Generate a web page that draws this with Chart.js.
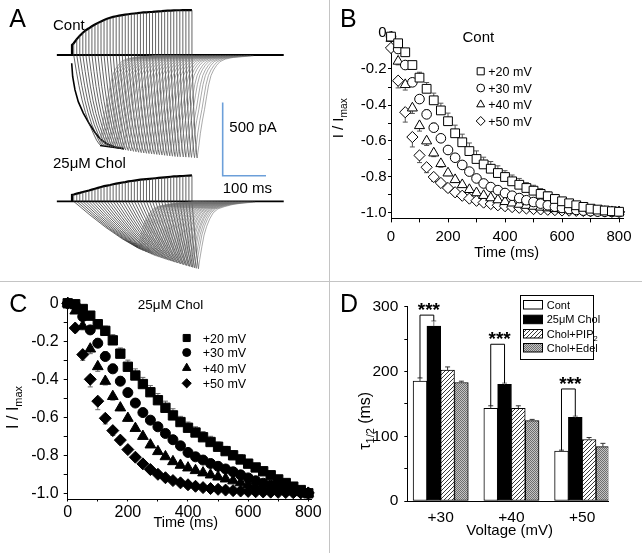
<!DOCTYPE html>
<html>
<head>
<meta charset="utf-8">
<script src="https://cdn.jsdelivr.net/npm/chart.js@4.4.1/dist/chart.umd.min.js"></script>
<style>
  html, body { margin: 0; padding: 0; background: #fff; }
  #fig { position: relative; width: 642px; height: 553px; overflow: hidden; background: #fff; }
  #fig canvas { position: absolute; }
  .div-v { position: absolute; left: 329px; top: 0; width: 1px; height: 553px; background: #c4c4c4; }
  .div-h { position: absolute; left: 0; top: 281px; width: 642px; height: 1px; background: #c4c4c4; }
</style>
</head>
<body>
<div id="fig">
  <canvas id="cA" width="329" height="281" style="left:0;top:0"></canvas>
  <canvas id="cB" width="312" height="281" style="left:330px;top:0"></canvas>
  <canvas id="cC" width="329" height="271" style="left:0;top:282px"></canvas>
  <canvas id="cD" width="312" height="271" style="left:330px;top:282px"></canvas>
  <div class="div-v"></div>
  <div class="div-h"></div>
</div>
<script>
const FONT = "'Liberation Sans', Arial, Helvetica, sans-serif";

// ---------- A: current traces (time in ms, current in pA) ----------
const sweepStart = [4,11,18,25,32,39,46,53,60,67,74,81,88,95,102,109,116,123,130,137,
                    144,151,158,165,172,179,186,193,200,207,214,221,228,235,242,249,256,263,270,277];
const contJump = 68;
const contTop = [80,108,132,152,169,182,196,208,219,229,239,247,254,260,264,268,272,275,278,281,
                 283,285,288,290,291,293,294,296,298,299,301,302,303,304,305,305,306,306,306,306];
const contTip = [64,69,74,79,84,89,94,99,104,109,114,119,124,130,136,142,148,154,160,166,
                 172,178,184,190,196,202,208,214,220,226,232,238,244,250,257,263,270,276,283,289];
const contDepth = [612,615,618,621,624,627,630,633,636,639,642,645,648,651,654,657,660,663,666,668,
                   670,672,674,676,678,680,682,684,686,688,690,692,693,694,695,696,697,698,700,702];
const cholJump = 44;
const cholTop = [47,53,58,64,69,74,80,86,92,98,104,108,112,117,121,125,129,132,136,139,
                 142,145,148,150,152,154,156,158,160,162,164,166,168,170,171,172,173,175,176,177];
const cholTip = [153,157,160,164,167,171,174,178,181,185,188,192,195,199,202,206,209,213,216,220,
                 223,227,230,234,237,241,244,248,251,255,258,262,265,269,272,276,279,283,287,292];
const cholDepth = [318,324,328,333,337,342,346,351,355,360,364,369,372,376,380,384,387,391,394,398,
                   401,404,407,411,414,417,420,423,426,429,432,435,438,441,444,447,450,453,456,459];
// shape of the inward part: [fraction of time to peak, fraction of peak]
const contFall = [[0,0],[0.1,0.18],[0.2,0.34],[0.32,0.5],[0.45,0.64],[0.6,0.77],[0.75,0.87],[0.88,0.95],[1,1]];
const cholFall = [[0,0],[0.25,0.29],[0.5,0.56],[0.75,0.8],[1,1]];
// recovery after peak: [ms after peak, fraction of peak left]
const contRise = [[0,1],[4,0.88],[7.5,0.76],[12,0.64],[17,0.53],[22,0.4],[26.5,0.29],[32,0.2],[38,0.145],[45,0.1],[53,0.064],[65,0.04],[84,0.023],[130,0.008]];
const cholRise = [[0,1],[3,0.86],[8,0.67],[13,0.5],[19,0.37],[26,0.26],[34,0.17],[45,0.11],[61,0.076],[80,0.045],[100,0.026],[131,0.01]];
const traceSpan = [-35, 489];
const arrowCurve = [[-0.7,-56],[1.6,-148],[6.9,-238],[14.5,-318],[26.1,-396],[40,-469],[53.1,-528],[64.7,-571],[80.1,-605],[99.3,-627],[120.1,-639]];
const arrowHead = [[64.7,-617],[120.1,-639]];
const scaleBar = { ms: 100, pA: 500 };

// ---------- B / C: normalised tail currents ----------
const timeMs = [0,25,50,75,100,125,150,175,200,225,250,275,300,325,350,375,400,
                425,450,475,500,525,550,575,600,625,650,675,700,725,750,775,800];
const seriesLabels = ['+20 mV', '+30 mV', '+40 mV', '+50 mV'];

const cont20 = [-0.02,-0.057,-0.107,-0.178,-0.248,-0.31,-0.374,-0.43,-0.49,-0.557,-0.607,-0.656,-0.7,-0.73,-0.754,-0.778,-0.8,
                -0.824,-0.843,-0.861,-0.876,-0.894,-0.907,-0.922,-0.935,-0.946,-0.957,-0.966,-0.976,-0.981,-0.986,-0.99,-0.993];
const cont30 = [-0.02,-0.089,-0.178,-0.274,-0.367,-0.452,-0.526,-0.585,-0.65,-0.693,-0.733,-0.77,-0.808,-0.836,-0.856,-0.873,-0.889,
                -0.904,-0.917,-0.929,-0.939,-0.948,-0.957,-0.965,-0.972,-0.978,-0.983,-0.987,-0.99,-0.992,-0.993,-0.994,-0.995];
const cont40 = [-0.03,-0.157,-0.287,-0.417,-0.515,-0.6,-0.667,-0.726,-0.778,-0.815,-0.843,-0.87,-0.888,-0.903,-0.916,-0.927,-0.937,
                -0.945,-0.952,-0.958,-0.963,-0.968,-0.972,-0.976,-0.979,-0.982,-0.985,-0.987,-0.989,-0.991,-0.992,-0.993,-0.994];
const cont50 = [-0.083,-0.265,-0.44,-0.578,-0.68,-0.746,-0.8,-0.833,-0.861,-0.885,-0.904,-0.92,-0.932,-0.942,-0.95,-0.957,-0.962,
                -0.967,-0.971,-0.975,-0.978,-0.98,-0.982,-0.984,-0.986,-0.987,-0.988,-0.989,-0.99,-0.991,-0.992,-0.993,-0.994];
const cont20Err = [0.005,0.01,0.015,0.02,0.03,0.035,0.04,0.04,0.045,0.045,0.045,0.045,0.045,0.04,0.04,0.04,0.035,
                   0.035,0.035,0.03,0.03,0.03,0.025,0.025,0.02,0.02,0.02,0.015,0.015,0.01,0.01,0.01,0.005];
const cont30Err = [0.005,0.01,0.015,0.02,0.02,0.025,0.025,0.02,0.02,0.02,0.02,0.02,0.015,0.015,0.015,0.015,0.015,
                   0.01,0.01,0.01,0.01,0.01,0.01,0.01,0.01,0.01,0.01,0.01,0.01,0.01,0.01,0.01,0.005];
const cont40Err = [0.005,0.02,0.03,0.03,0.03,0.025,0.02,0.02,0.015,0.015,0.015,0.01,0.01,0.01,0.01,0.01,0.01,
                   0.01,0.01,0.01,0.01,0.01,0.01,0.01,0.01,0.01,0.01,0.01,0.01,0.01,0.01,0.01,0.005];
const cont50Err = [0.01,0.04,0.055,0.055,0.04,0.03,0.025,0.02,0.02,0.015,0.015,0.01,0.01,0.01,0.01,0.01,0.01,
                   0.01,0.01,0.01,0.01,0.01,0.01,0.01,0.01,0.01,0.01,0.01,0.01,0.01,0.01,0.01,0.005];

const chol20 = [0,-0.005,-0.03,-0.065,-0.11,-0.145,-0.195,-0.265,-0.334,-0.38,-0.425,-0.468,-0.51,-0.55,-0.59,-0.625,-0.655,
                -0.68,-0.705,-0.73,-0.755,-0.778,-0.8,-0.822,-0.844,-0.864,-0.884,-0.905,-0.927,-0.946,-0.965,-0.983,-1.0];
const chol30 = [0,-0.01,-0.07,-0.14,-0.21,-0.28,-0.345,-0.41,-0.47,-0.525,-0.575,-0.615,-0.65,-0.685,-0.718,-0.75,-0.785,
                -0.808,-0.825,-0.843,-0.858,-0.872,-0.887,-0.903,-0.919,-0.934,-0.947,-0.958,-0.968,-0.978,-0.986,-0.993,-1.0];
const chol40 = [0,-0.04,-0.12,-0.24,-0.333,-0.41,-0.49,-0.55,-0.605,-0.658,-0.7,-0.745,-0.78,-0.807,-0.833,-0.852,-0.866,
                -0.88,-0.892,-0.903,-0.914,-0.924,-0.934,-0.944,-0.953,-0.962,-0.97,-0.977,-0.983,-0.988,-0.992,-0.996,-1.0];
const chol50 = [0,-0.13,-0.27,-0.4,-0.515,-0.605,-0.67,-0.72,-0.77,-0.81,-0.845,-0.875,-0.9,-0.918,-0.933,-0.945,-0.955,
                -0.963,-0.97,-0.975,-0.979,-0.983,-0.986,-0.988,-0.99,-0.992,-0.993,-0.994,-0.995,-0.996,-0.997,-0.998,-0.998];
const chol20Err = [0,0.005,0.01,0.015,0.02,0.025,0.03,0.03,0.035,0.035,0.035,0.035,0.035,0.035,0.035,0.03,0.03,
                   0.03,0.03,0.03,0.025,0.025,0.025,0.025,0.02,0.02,0.02,0.015,0.015,0.01,0.01,0.01,0.005];
const chol30Err = [0,0.01,0.015,0.02,0.025,0.025,0.025,0.025,0.02,0.02,0.02,0.02,0.02,0.015,0.015,0.015,0.015,
                   0.01,0.01,0.01,0.01,0.01,0.01,0.01,0.01,0.01,0.01,0.01,0.01,0.01,0.01,0.01,0.005];
const chol40Err = [0,0.01,0.02,0.025,0.025,0.02,0.02,0.015,0.015,0.015,0.01,0.01,0.01,0.01,0.01,0.01,0.01,
                   0.01,0.01,0.01,0.01,0.01,0.01,0.01,0.01,0.01,0.01,0.01,0.01,0.01,0.01,0.01,0.005];
const chol50Err = [0.005,0.02,0.03,0.04,0.045,0.03,0.025,0.02,0.015,0.015,0.01,0.01,0.01,0.01,0.01,0.01,0.01,
                   0.01,0.01,0.01,0.01,0.01,0.01,0.01,0.01,0.01,0.01,0.01,0.01,0.01,0.01,0.01,0.005];
const timeTicks = [0,100,200,300,400,500,600,700,800];
const normTicks = [-1.0,-0.9,-0.8,-0.7,-0.6,-0.5,-0.4,-0.3,-0.2,-0.1,0];

// ---------- D: tau 1/2 ----------
const voltLabels = ['+30', '+40', '+50'];
const barLabels = ['Cont', '25\u03bcM Chol', 'Chol+PIP', 'Chol+Edel'];
const tauCont = [185, 143, 77];
const tauChol = [270, 180, 129];
const tauPIP2 = [202, 143, 95];
const tauEdel = [183, 124, 84];
const errCont = [5, 4, 1.5];
const errChol = [8, 2, 2];
const errPIP2 = [5, 4, 3];
const errEdel = [2, 2, 5];
const sigTop = [287, 242, 173];
const tauTicks = [0,50,100,150,200,250,300];

Chart.defaults.font.family = FONT;
Chart.defaults.color = '#000';
Chart.defaults.animation = false;
Chart.defaults.events = [];
Chart.defaults.plugins.legend.display = false;
Chart.defaults.plugins.tooltip.enabled = false;

// ---------- helpers ----------
function font(size, bold) { return (bold ? 'bold ' : '') + size + 'px ' + FONT; }

function rich(ctx, parts, x, y, size, align) {
  const w = parts.map(p => { ctx.font = font(p[1] ? size * 0.68 : size); return ctx.measureText(p[0]).width; });
  let cx = align === 'center' ? x - w.reduce((a, b) => a + b, 0) / 2 : x;
  ctx.textAlign = 'left';
  ctx.textBaseline = 'alphabetic';
  parts.forEach((p, i) => {
    ctx.font = font(p[1] ? size * 0.68 : size);
    ctx.fillText(p[0], cx, p[1] ? y + size * 0.28 : y);
    cx += w[i];
  });
}

function richUp(ctx, parts, x, y, size) {
  ctx.save();
  ctx.translate(x, y);
  ctx.rotate(-Math.PI / 2);
  rich(ctx, parts, 0, 0, size, 'center');
  ctx.restore();
}

function marker(ctx, style, x, y, r, fill) {
  ctx.beginPath();
  if (style === 'rect') { const s = r * Math.SQRT1_2; ctx.rect(x - s, y - s, 2 * s, 2 * s); }
  else if (style === 'circle') ctx.arc(x, y, r, 0, Math.PI * 2);
  else if (style === 'triangle') { ctx.moveTo(x, y - r); ctx.lineTo(x + r * 0.866, y + r * 0.5); ctx.lineTo(x - r * 0.866, y + r * 0.5); ctx.closePath(); }
  else { ctx.moveTo(x, y - r); ctx.lineTo(x + r, y); ctx.lineTo(x, y + r); ctx.lineTo(x - r, y); ctx.closePath(); }
  ctx.fillStyle = fill; ctx.fill();
  ctx.strokeStyle = '#000'; ctx.lineWidth = 1; ctx.stroke();
}

function overlay(draw) {
  return { id: 'overlay', afterDraw(chart) { const ctx = chart.ctx; ctx.save(); ctx.fillStyle = '#000'; draw(ctx, chart); ctx.restore(); } };
}

const errorBars = {
  id: 'errorBars',
  beforeDatasetsDraw(chart) {
    const ctx = chart.ctx, xs = chart.scales.x, ys = chart.scales.y;
    ctx.save();
    ctx.lineWidth = 1;
    chart.data.datasets.forEach(ds => {
      if (!ds.err) return;
      ctx.strokeStyle = ds.errColor;
      ds.data.forEach((p, i) => {
        if (!ds.err[i]) return;
        const x = xs.getPixelForValue(p.x);
        const y0 = ys.getPixelForValue(p.y);
        const y1 = ys.getPixelForValue(p.y + ds.errDir * ds.err[i]);
        ctx.beginPath();
        ctx.moveTo(x, y0); ctx.lineTo(x, y1);
        ctx.moveTo(x - 2.5, y1); ctx.lineTo(x + 2.5, y1);
        ctx.stroke();
      });
    });
    ctx.restore();
  }
};

// ---------- Panel A ----------
const A_MS_PX = 0.433, A_PA_PX = 0.1467, A_T0_PX = 72, A_BASE_PX = 55;
const cholOffset = -998;

// the dash setting keeps Chart.js off its pixel-merging fast path for these thin traces
function line(points, color, width) {
  return { data: points, borderColor: color, borderWidth: width, pointRadius: 0, tension: 0, fill: false, clip: false, borderDash: [1000, 0] };
}

// step end (vertical line) and the growing inward current up to its peak
function fallPath(k, tops, tips, depths, fall, off) {
  const x0 = sweepStart[k], tip = tips[k], d = depths[k];
  const pts = [{ x: x0, y: off + tops[k] }, { x: x0, y: off }];
  fall.slice(1).forEach(([u, v]) => pts.push({ x: x0 + u * (tip - x0), y: off - d * v }));
  return pts;
}

// decay of the inward current back to the baseline
function risePath(k, tips, depths, rise, off) {
  return rise.map(([dt, f]) => ({ x: tips[k] + dt, y: off - depths[k] * f }));
}

function envelope(jump, tops, off) {
  return [{ x: 0, y: off }, { x: 0, y: off + jump }].concat(sweepStart.map((x, k) => ({ x, y: off + tops[k] })));
}

const aSets = [];
sweepStart.forEach((_, k) => {
  aSets.push(line(risePath(k, contTip, contDepth, contRise, 0), '#6e6e6e', 0.6));
  aSets.push(line(risePath(k, cholTip, cholDepth, cholRise, cholOffset), '#6e6e6e', 0.6));
});
sweepStart.forEach((_, k) => {
  aSets.push(line(fallPath(k, contTop, contTip, contDepth, contFall, 0), '#303030', 0.75));
  aSets.push(line(fallPath(k, cholTop, cholTip, cholDepth, cholFall, cholOffset), '#303030', 0.75));
});
aSets.push(line(traceSpan.map(x => ({ x, y: 0 })), '#000', 1.8));
aSets.push(line(traceSpan.map(x => ({ x, y: cholOffset })), '#000', 1.8));
aSets.push(line(envelope(contJump, contTop, 0), '#000', 2.2));
aSets.push(line(envelope(cholJump, cholTop, cholOffset), '#000', 2.2));
aSets.push(line(arrowCurve.map(([x, y]) => ({ x, y })), '#000', 1.6));
aSets.push(line(arrowHead.map(([x, y]) => ({ x, y })), '#000', 1.6));
const barX = 348, barY = -823;
aSets.push(line([{ x: barX, y: barY + scaleBar.pA }, { x: barX, y: barY }, { x: barX + scaleBar.ms, y: barY }], '#6c9fd9', 1.6));

const aXmin = -A_T0_PX / A_MS_PX, aYmax = A_BASE_PX / A_PA_PX;
new Chart(document.getElementById('cA'), {
  type: 'line',
  data: { datasets: aSets },
  options: {
    responsive: false, devicePixelRatio: 1,
    layout: { padding: 0 },
    scales: {
      x: { type: 'linear', display: false, min: aXmin, max: aXmin + 329 / A_MS_PX },
      y: { type: 'linear', display: false, min: aYmax - 281 / A_PA_PX, max: aYmax }
    }
  },
  plugins: [overlay(ctx => {
    ctx.textAlign = 'left'; ctx.textBaseline = 'alphabetic';
    ctx.font = font(25); ctx.fillText('A', 9.3, 26.7);
    ctx.font = font(15);
    ctx.fillText('Cont', 53, 29.5);
    ctx.fillText('25\u03bcM Chol', 53, 168);
    ctx.fillText('500 pA', 229.3, 131.7);
    ctx.fillText('100 ms', 222.7, 193);
  })]
});

// ---------- Panels B and C ----------
function normLabel(v) {
  const k = Math.round(-v * 10);
  if (k % 2) return '';
  return k === 0 ? '0' : v.toFixed(1);
}

function timeAxis(max, height, size, pad, tl) {
  return {
    type: 'linear', min: 0, max,
    afterFit: s => { s.height = height; },
    afterBuildTicks: s => { s.ticks = timeTicks.map(v => ({ value: v })); },
    ticks: { autoSkip: false, maxRotation: 0, padding: pad, font: { size }, callback: v => (v % 200 === 0 ? String(v) : '') },
    grid: { drawOnChartArea: false, drawTicks: true, tickLength: tl, color: '#000', lineWidth: 1 },
    border: { display: true, color: '#000', width: 1 }
  };
}

function normAxis(width, size, pad, tl) {
  return {
    type: 'linear', min: -1.03, max: 0.01,
    afterFit: s => { s.width = width; },
    afterBuildTicks: s => { s.ticks = normTicks.map(v => ({ value: v })); },
    ticks: { autoSkip: false, padding: pad, font: { size }, callback: v => normLabel(v) },
    grid: { drawOnChartArea: false, drawTicks: true, tickLength: tl, color: '#000', lineWidth: 1 },
    border: { display: true, color: '#000', width: 1 }
  };
}

function markerSet(vals, errs, dir, style, r, fill, errColor) {
  return {
    data: timeMs.map((t, i) => ({ x: t, y: vals[i] })),
    showLine: false, pointStyle: style, pointRadius: r,
    pointBorderWidth: 1, pointBorderColor: '#000', pointBackgroundColor: fill,
    borderColor: '#000', backgroundColor: fill, clip: false,
    err: errs, errDir: dir, errColor
  };
}

const styles = ['rect', 'circle', 'triangle', 'rectRot'];

function legend(ctx, mx, tx, rows, fill, radii, size) {
  rows.forEach((y, i) => {
    marker(ctx, styles[i], mx, y, radii[i], fill);
    ctx.fillStyle = '#000';
    ctx.font = font(size);
    ctx.textAlign = 'left'; ctx.textBaseline = 'alphabetic';
    ctx.fillText(seriesLabels[i], tx, y + size * 0.36);
  });
}

new Chart(document.getElementById('cB'), {
  type: 'scatter',
  data: { datasets: [
    markerSet(cont20, cont20Err, 1, 'rect', 6.2, '#fff', '#555'),
    markerSet(cont30, cont30Err, 1, 'circle', 4.8, '#fff', '#555'),
    markerSet(cont40, cont40Err, -1, 'triangle', 5.8, '#fff', '#555'),
    markerSet(cont50, cont50Err, -1, 'rectRot', 5.6, '#fff', '#555')
  ] },
  options: {
    responsive: false, devicePixelRatio: 1,
    layout: { padding: { left: 0, right: 18.7, top: 31.2, bottom: 0 } },
    scales: { x: timeAxis(815, 62.6, 15, 5, 4), y: normAxis(61, 15, 1.5, 3) }
  },
  plugins: [errorBars, overlay(ctx => {
    ctx.textAlign = 'left'; ctx.textBaseline = 'alphabetic';
    ctx.font = font(25); ctx.fillText('B', 10, 26.7);
    ctx.font = font(15); ctx.textAlign = 'center'; ctx.fillText('Cont', 148.3, 41.6);
    rich(ctx, [['Time (ms)', false]], 176.7, 257, 14.5, 'center');
    richUp(ctx, [['I / I', false], ['max', true]], 12.5, 118.3, 15);
    legend(ctx, 150.7, 158.3, [71.3, 88, 104.5, 121], '#fff', [5, 3.9, 4.6, 4.5], 12.5);
  })]
});

new Chart(document.getElementById('cC'), {
  type: 'scatter',
  data: { datasets: [
    markerSet(chol20, chol20Err, 1, 'rect', 6.6, '#000', '#666'),
    markerSet(chol30, chol30Err, 1, 'circle', 5, '#000', '#666'),
    markerSet(chol40, chol40Err, -1, 'triangle', 6.2, '#000', '#666'),
    markerSet(chol50, chol50Err, -1, 'rectRot', 6, '#000', '#666')
  ] },
  options: {
    responsive: false, devicePixelRatio: 1,
    layout: { padding: { left: 0, right: 17.7, top: 19.4, bottom: 0 } },
    scales: { x: timeAxis(810, 54, 16, 1, 2.5), y: normAxis(67.7, 16, 5, 4) }
  },
  plugins: [errorBars, overlay(ctx => {
    ctx.textAlign = 'left'; ctx.textBaseline = 'alphabetic';
    ctx.font = font(25); ctx.fillText('C', 9.3, 29.7);
    ctx.font = font(13.5); ctx.textAlign = 'center'; ctx.fillText('25\u03bcM Chol', 170.5, 27);
    rich(ctx, [['Time (ms)', false]], 185.8, 245, 14.5, 'center');
    richUp(ctx, [['I / I', false], ['max', true]], 17.5, 125.5, 16);
    legend(ctx, 186.7, 202.7, [56, 70.5, 86, 101.3], '#000', [5, 4, 4.8, 4.6], 12.5);
  })]
});

// ---------- Panel D ----------
const cD = document.getElementById('cD');
const gD = cD.getContext('2d');

function tile(draw) {
  const c = document.createElement('canvas');
  c.width = 4; c.height = 4;
  draw(c.getContext('2d'));
  return gD.createPattern(c, 'repeat');
}
const hatchFill = tile(g => {
  g.fillStyle = '#fff'; g.fillRect(0, 0, 4, 4);
  g.strokeStyle = '#222'; g.lineWidth = 0.9;
  g.beginPath(); g.moveTo(0, 4); g.lineTo(4, 0); g.moveTo(-1, 1); g.lineTo(1, -1); g.moveTo(3, 5); g.lineTo(5, 3); g.stroke();
});
const greyFill = tile(g => {
  g.fillStyle = '#c4c4c4'; g.fillRect(0, 0, 4, 4);
  g.fillStyle = '#6e6e6e';
  g.fillRect(0, 0, 1, 1); g.fillRect(2, 0, 1, 1); g.fillRect(1, 1, 1, 1); g.fillRect(3, 1, 1, 1);
  g.fillRect(0, 2, 1, 1); g.fillRect(2, 2, 1, 1); g.fillRect(1, 3, 1, 1); g.fillRect(3, 3, 1, 1);
});
const barFills = ['#fff', '#000', hatchFill, greyFill];

function barSet(vals, errs, fill) {
  return {
    data: vals.map((v, i) => ({ x: i + 1, y: v })),
    backgroundColor: fill, borderColor: '#000', borderWidth: 1, borderSkipped: false,
    barThickness: 13.8, err: errs
  };
}

new Chart(cD, {
  type: 'bar',
  data: { datasets: [
    barSet(tauCont, errCont, barFills[0]),
    barSet(tauChol, errChol, barFills[1]),
    barSet(tauPIP2, errPIP2, barFills[2]),
    barSet(tauEdel, errEdel, barFills[3])
  ] },
  options: {
    responsive: false, devicePixelRatio: 1,
    layout: { padding: { left: 0, right: 33.7, top: 24.7, bottom: 0 } },
    scales: {
      x: {
        type: 'linear', min: 0.528, max: 3.369, offset: false,
        afterFit: s => { s.height = 52; },
        afterBuildTicks: s => { s.ticks = voltLabels.map((_, i) => ({ value: i + 1 })); },
        ticks: { autoSkip: false, maxRotation: 0, padding: 7, font: { size: 15.5 }, callback: v => voltLabels[v - 1] },
        grid: { display: false, drawTicks: false, offset: false },
        border: { display: true, color: '#000', width: 1 }
      },
      y: {
        type: 'linear', min: 0, max: 300,
        afterFit: s => { s.width = 77.3; },
        afterBuildTicks: s => { s.ticks = tauTicks.map(v => ({ value: v })); },
        ticks: { autoSkip: false, padding: 6, font: { size: 15.5 }, callback: v => (v % 100 === 0 ? String(v) : '') },
        grid: { drawOnChartArea: false, drawTicks: true, tickLength: 3, color: '#000' },
        border: { display: true, color: '#000', width: 1 }
      }
    }
  },
  plugins: [overlay((ctx, chart) => {
    const ys = chart.scales.y;
    // error bars
    ctx.lineWidth = 1;
    chart.data.datasets.forEach((ds, di) => {
      ctx.strokeStyle = di === 1 ? '#777' : '#333';
      chart.getDatasetMeta(di).data.forEach((bar, j) => {
        const y0 = ys.getPixelForValue(ds.data[j].y), y1 = ys.getPixelForValue(ds.data[j].y + ds.err[j]);
        ctx.beginPath();
        ctx.moveTo(bar.x, y0); ctx.lineTo(bar.x, y1);
        ctx.moveTo(bar.x - 2.5, y1); ctx.lineTo(bar.x + 2.5, y1);
        ctx.stroke();
      });
    });
    // significance brackets
    const m0 = chart.getDatasetMeta(0).data, m1 = chart.getDatasetMeta(1).data;
    ctx.strokeStyle = '#000';
    sigTop.forEach((top, j) => {
      const xl = m0[j].x, xr = m1[j].x, yt = ys.getPixelForValue(top);
      ctx.beginPath();
      ctx.moveTo(xl, ys.getPixelForValue(tauCont[j] + errCont[j]));
      ctx.lineTo(xl, yt); ctx.lineTo(xr, yt);
      ctx.lineTo(xr, ys.getPixelForValue(tauChol[j] + errChol[j]));
      ctx.stroke();
      ctx.font = font(19, true); ctx.textAlign = 'center'; ctx.textBaseline = 'alphabetic';
      ctx.fillText('***', (xl + xr) / 2 + 2, yt + 1);
    });
    // legend box
    ctx.lineWidth = 1;
    ctx.strokeRect(190.5, 13.5, 73, 64);
    [22.5, 37.2, 51.5, 65.5].forEach((y, i) => {
      ctx.fillStyle = barFills[i];
      ctx.fillRect(193.5, y - 4, 19, 8.5);
      ctx.strokeRect(193.5, y - 4, 19, 8.5);
      ctx.fillStyle = '#000';
      const parts = i === 2 ? [[barLabels[i], false], ['2', true]] : [[barLabels[i], false]];
      rich(ctx, parts, 216.7, y + 4, 11, 'left');
    });
    ctx.textAlign = 'left';
    ctx.font = font(25); ctx.fillText('D', 10, 29.7);
    rich(ctx, [['Voltage (mV)', false]], 179.7, 252.8, 15, 'center');
    richUp(ctx, [['\u03c4', false], ['1/2', true], [' (ms)', false]], 40, 138.8, 16);
  })]
});
</script>
</body>
</html>
